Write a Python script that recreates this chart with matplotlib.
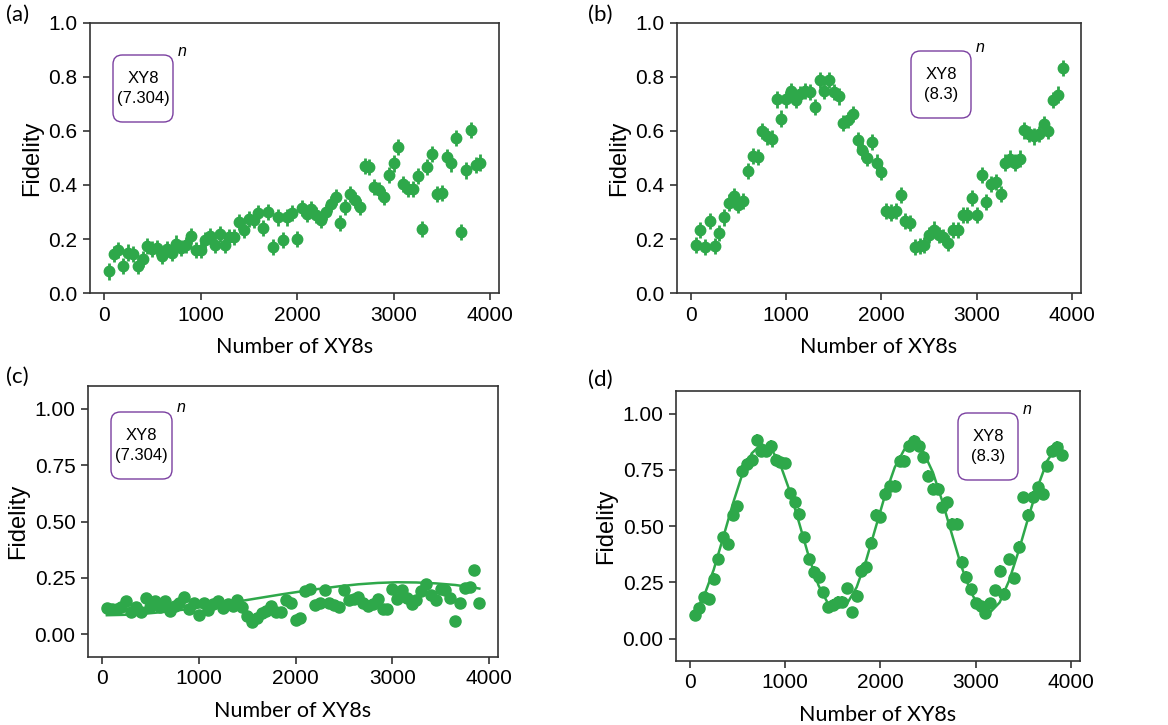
import numpy as np
import matplotlib.pyplot as plt
from matplotlib.patches import FancyBboxPatch

# number of XY8 blocks (same grid for every panel)
n_xy8 = np.arange(50, 3901, 50)

# (a) XY8 at 7.304 MHz
fid_a = [0.08, 0.143, 0.158, 0.10, 0.15, 0.143, 0.10, 0.127, 0.174, 0.164,
         0.168, 0.137, 0.164, 0.15, 0.183, 0.168, 0.177, 0.21, 0.16, 0.16,
         0.195, 0.21, 0.177, 0.22, 0.177, 0.207, 0.207, 0.263, 0.232, 0.275,
         0.27, 0.296, 0.24, 0.30, 0.17, 0.28, 0.195, 0.28, 0.297, 0.20,
         0.316, 0.294, 0.31, 0.288, 0.27, 0.30, 0.33, 0.355, 0.26, 0.318,
         0.368, 0.343, 0.318, 0.47, 0.467, 0.393, 0.38, 0.355, 0.436, 0.48,
         0.54, 0.405, 0.386, 0.386, 0.433, 0.238, 0.467, 0.514, 0.368, 0.37,
         0.504, 0.48, 0.574, 0.226, 0.454, 0.605, 0.475, 0.483]

# (b) XY8 at 8.3 MHz
fid_b = [0.177, 0.232, 0.17, 0.267, 0.175, 0.222, 0.28, 0.335, 0.36, 0.325,
         0.34, 0.452, 0.507, 0.504, 0.60, 0.58, 0.572, 0.717, 0.646, 0.717,
         0.748, 0.714, 0.736, 0.748, 0.744, 0.69, 0.788, 0.748, 0.79, 0.744,
         0.728, 0.63, 0.64, 0.664, 0.568, 0.528, 0.50, 0.56, 0.483, 0.448,
         0.304, 0.298, 0.304, 0.364, 0.267, 0.26, 0.17, 0.173, 0.177, 0.216,
         0.235, 0.216, 0.207, 0.186, 0.232, 0.232, 0.288, 0.29, 0.352, 0.288,
         0.436, 0.337, 0.405, 0.411, 0.368, 0.483, 0.498, 0.483, 0.498, 0.602,
         0.59, 0.58, 0.59, 0.627, 0.60, 0.716, 0.735, 0.833]

# (c) XY8 at 7.304 MHz, second run
fid_c = [0.115, 0.111, 0.111, 0.123, 0.149, 0.10, 0.123, 0.10, 0.163, 0.123,
         0.149, 0.12, 0.149, 0.105, 0.126, 0.138, 0.164, 0.111, 0.138, 0.086,
         0.14, 0.108, 0.133, 0.149, 0.118, 0.133, 0.126, 0.152, 0.123, 0.081,
         0.056, 0.071, 0.093, 0.105, 0.126, 0.10, 0.10, 0.152, 0.138, 0.064,
         0.071, 0.194, 0.20, 0.13, 0.14, 0.197, 0.138, 0.13, 0.123, 0.197,
         0.152, 0.155, 0.164, 0.14, 0.126, 0.133, 0.155, 0.111, 0.111, 0.20,
         0.155, 0.197, 0.16, 0.133, 0.152, 0.194, 0.223, 0.175, 0.152, 0.20,
         0.197, 0.163, 0.059, 0.14, 0.207, 0.209, 0.286, 0.14]

# (d) XY8 at 8.3 MHz, second run
fid_d = [0.103, 0.134, 0.183, 0.175, 0.264, 0.352, 0.45, 0.42, 0.55, 0.588,
         0.746, 0.776, 0.795, 0.882, 0.835, 0.835, 0.857, 0.795, 0.786, 0.778,
         0.645, 0.606, 0.555, 0.45, 0.352, 0.296, 0.274, 0.205, 0.139, 0.149,
         0.164, 0.164, 0.223, 0.117, 0.19, 0.30, 0.316, 0.426, 0.55, 0.54,
         0.643, 0.68, 0.68, 0.79, 0.79, 0.857, 0.879, 0.857, 0.805, 0.724,
         0.665, 0.665, 0.584, 0.606, 0.51, 0.51, 0.34, 0.274, 0.218, 0.156,
         0.146, 0.112, 0.156, 0.215, 0.30, 0.20, 0.352, 0.267, 0.407, 0.628,
         0.55, 0.631, 0.672, 0.643, 0.768, 0.835, 0.853, 0.816]

# fitted curves
fit_c_x = [50, 250, 450, 650, 850, 1050, 1250, 1450, 1650, 1850, 2050,
           2250, 2450, 2650, 2850, 3050, 3250, 3450, 3650, 3850, 3900]
fit_c_y = [0.085, 0.087, 0.092, 0.100, 0.110, 0.122, 0.135, 0.149, 0.163,
           0.177, 0.190, 0.202, 0.213, 0.222, 0.228, 0.231, 0.230, 0.226,
           0.219, 0.207, 0.203]

fit_d_x = [50, 150, 250, 350, 450, 550, 650, 750, 850, 950, 1050, 1150,
           1250, 1350, 1450, 1550, 1650, 1750, 1850, 1950, 2050, 2150, 2250,
           2350, 2450, 2550, 2650, 2750, 2850, 2950, 3050, 3150, 3250, 3350,
           3450, 3550, 3650, 3750, 3850, 3900]
fit_d_y = [0.115, 0.19, 0.305, 0.449, 0.597, 0.729, 0.823, 0.864, 0.846,
           0.772, 0.653, 0.509, 0.361, 0.236, 0.155, 0.135, 0.155, 0.228,
           0.348, 0.494, 0.640, 0.761, 0.840, 0.865, 0.829, 0.738, 0.608,
           0.462, 0.319, 0.204, 0.132, 0.116, 0.160, 0.258, 0.390, 0.536,
           0.675, 0.790, 0.854, 0.862]

yerr_ab = 0.03
yerr_c = 0.015
yerr_d = 0.025
xerr_cd = 45

green = '#2ea84a'
purple = '#7a3fa0'
W, H = 1168, 725

plt.rcParams['font.family'] = ['Liberation Sans', 'DejaVu Sans']

fig = plt.figure(figsize=(W / 100, H / 100), dpi=100)


def rect(l, t, r, b):
    return [l / W, 1 - b / H, (r - l) / W, (b - t) / H]


def style(ax):
    for s in ax.spines.values():
        s.set_color('#333333')
        s.set_linewidth(1.2)
    ax.tick_params(direction='out', length=5, width=1.2, color='#333333',
                   labelsize=15, pad=4)
    ax.set_xlim(-145, 4093)
    ax.set_xticks([0, 1000, 2000, 3000, 4000])
    ax.set_xlabel('Number of XY8s', fontsize=15.5, family='Lato', labelpad=9)
    ax.set_ylabel('Fidelity', fontsize=17, labelpad=4)


def label_box(l, t, r, b, text):
    # rounded frame with the pulse label; corners kept round in pixels
    box = FancyBboxPatch((l / W, 1 - b / H), (r - l) / W, (b - t) / H,
                         boxstyle='round,pad=0,rounding_size=0.008',
                         mutation_aspect=W / H, transform=fig.transFigure,
                         fc='white', ec=purple, lw=1.0, zorder=5)
    fig.patches.append(box)
    fig.text((l + r) / 2 / W, 1 - (t + b) / 2 / H, text, ha='center',
             va='center', fontsize=12, linespacing=1.45, zorder=6)
    fig.text((r + 9) / W, 1 - (t - 4) / H, 'n', fontsize=11.5, style='italic',
             ha='center', va='center')


def panel_tag(x, y, s):
    fig.text(x / W, 1 - y / H, s, fontsize=16, family='Lato',
             ha='left', va='center')


ax_a = fig.add_axes(rect(90, 23, 499, 293))
ax_a.errorbar(n_xy8, fid_a, yerr=yerr_ab, fmt='o', color=green, ms=7.5,
              elinewidth=2, capsize=0)
ax_a.set_ylim(0, 1.0)
ax_a.set_yticks(np.arange(0, 1.01, 0.2))
style(ax_a)

ax_b = fig.add_axes(rect(677, 23, 1081, 293))
ax_b.errorbar(n_xy8, fid_b, yerr=yerr_ab, fmt='o', color=green, ms=7.5,
              elinewidth=2, capsize=0)
ax_b.set_ylim(0, 1.0)
ax_b.set_yticks(np.arange(0, 1.01, 0.2))
style(ax_b)

ax_c = fig.add_axes(rect(88, 386, 498, 657))
ax_c.errorbar(n_xy8, fid_c, yerr=yerr_c, xerr=xerr_cd, fmt='o', color=green,
              ms=8, elinewidth=1.5, capsize=0)
ax_c.plot(fit_c_x, fit_c_y, color=green, lw=1.8)
ax_c.set_ylim(-0.1, 1.1)
ax_c.set_yticks([0, 0.25, 0.5, 0.75, 1.0])
ax_c.set_yticklabels(['0.00', '0.25', '0.50', '0.75', '1.00'])
style(ax_c)

ax_d = fig.add_axes(rect(676, 391, 1080, 661))
ax_d.errorbar(n_xy8, fid_d, yerr=yerr_d, xerr=xerr_cd, fmt='o', color=green,
              ms=8, elinewidth=1.5, capsize=0)
ax_d.plot(fit_d_x, fit_d_y, color=green, lw=1.8)
ax_d.set_ylim(-0.1, 1.1)
ax_d.set_yticks([0, 0.25, 0.5, 0.75, 1.0])
ax_d.set_yticklabels(['0.00', '0.25', '0.50', '0.75', '1.00'])
style(ax_d)

label_box(113, 55, 173, 122, 'XY8\n(7.304)')
label_box(911, 51, 971, 118, 'XY8\n(8.3)')
label_box(111, 412, 172, 479, 'XY8\n(7.304)')
label_box(958, 413, 1018, 480, 'XY8\n(8.3)')

panel_tag(6, 15, '(a)')
panel_tag(588, 15, '(b)')
panel_tag(6, 377, '(c)')
panel_tag(588, 380, '(d)')

plt.savefig('out.png', dpi=100)
